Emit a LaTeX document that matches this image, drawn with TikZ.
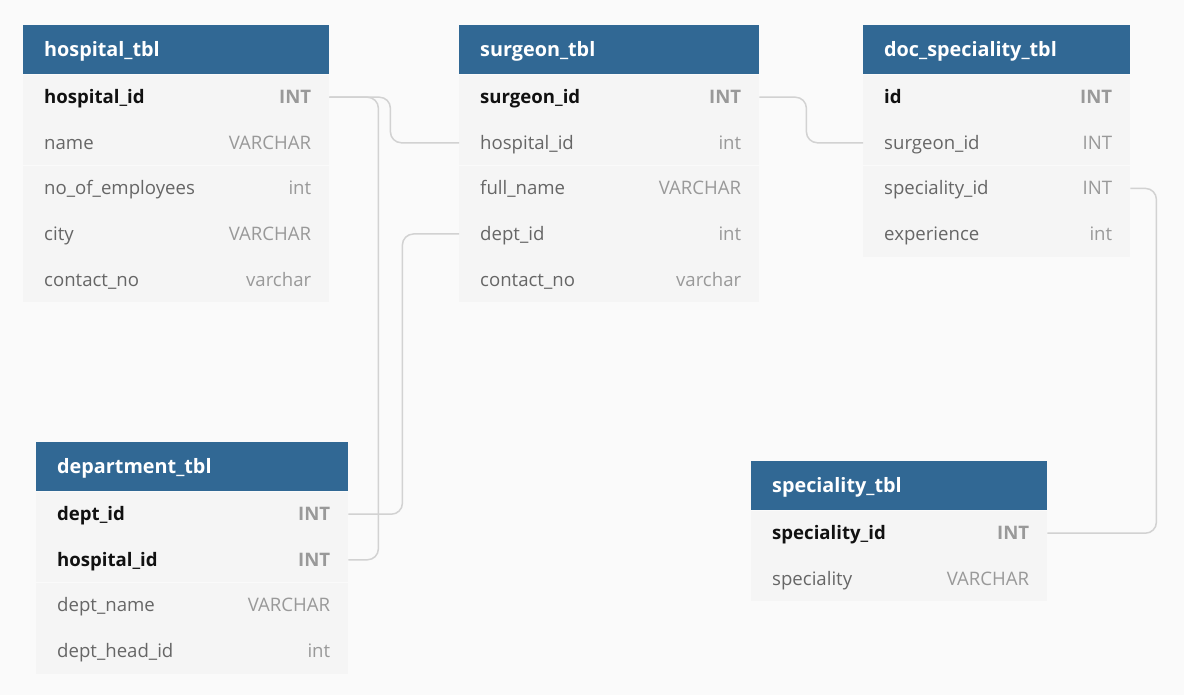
\documentclass[tikz,border=0pt]{standalone}
\usepackage{fontspec}
\setmainfont{Open Sans}
\definecolor{bgc}{HTML}{FAFAFA}
\definecolor{bodyc}{HTML}{F5F5F5}
\definecolor{hdrc}{HTML}{316894}
\definecolor{namec}{HTML}{666666}
\definecolor{typec}{HTML}{999999}
\definecolor{keyc}{HTML}{111111}
\definecolor{linec}{HTML}{D2D2D2}
\tikzset{
  hdr/.style={fill=hdrc, minimum height=49, inner sep=0, anchor=north west},
  hdrtext/.style={text=white, font=\fontsize{19.8}{22}\selectfont\bfseries, inner sep=0, anchor=base west},
  rowbox/.style={fill=bodyc, minimum height=45.2, inner sep=0},
  keyname/.style={text=keyc, font=\fontsize{18.6}{21}\selectfont\bfseries, inner sep=0},
  keytype/.style={text=typec, font=\fontsize{18.6}{21}\selectfont\bfseries, inner sep=0},
  fname/.style={text=namec, font=\fontsize{18.6}{21}\selectfont, inner sep=0},
  ftype/.style={text=typec, font=\fontsize{18.6}{21}\selectfont, inner sep=0},
  conn/.style={draw=linec, line width=1.5pt, rounded corners=11pt},
}
% #1 name, #2 x, #3 y, #4 width, #5 title
\newcommand{\ertable}[5]{%
  \node[hdr, minimum width=#4] (#1) at (#2,#3) {};
  \node[hdrtext] (#1x) at ([xshift=21,yshift=-7]#1.west) {#5};}
% #1 node name, #2 previous node, #3 width, #4 field, #5 type, #6 name style, #7 type style
\newcommand{\erow}[7]{%
  \node[rowbox, minimum width=#3, anchor=north] (#1) at (#2.south) {};
  \node[#6, anchor=base west] (#1n) at ([xshift=21,yshift=-6.5]#1.west) {#4};
  \node[#7, anchor=base east] (#1t) at ([xshift=-18,yshift=-6.5]#1.east) {#5};}
\begin{document}
\begin{tikzpicture}[x=1pt, y=-1pt]
\fill[bgc] (0,0) rectangle (1184,695);
\useasboundingbox (0,0) rectangle (1184,695);

% hospital_tbl
\ertable{h}{23}{25}{306}{hospital\_tbl}
\erow{h1}{h}{306}{hospital\_id}{INT}{keyname}{keytype}
\erow{h2}{h1}{306}{name}{VARCHAR}{fname}{ftype}
\erow{h3}{h2}{306}{no\_of\_employees}{int}{fname}{ftype}
\erow{h4}{h3}{306}{city}{VARCHAR}{fname}{ftype}
\erow{h5}{h4}{306}{contact\_no}{varchar}{fname}{ftype}

% surgeon_tbl
\ertable{s}{459}{25}{300}{surgeon\_tbl}
\erow{s1}{s}{300}{surgeon\_id}{INT}{keyname}{keytype}
\erow{s2}{s1}{300}{hospital\_id}{int}{fname}{ftype}
\erow{s3}{s2}{300}{full\_name}{VARCHAR}{fname}{ftype}
\erow{s4}{s3}{300}{dept\_id}{int}{fname}{ftype}
\erow{s5}{s4}{300}{contact\_no}{varchar}{fname}{ftype}

% doc_speciality_tbl
\ertable{ds}{863}{25}{267}{doc\_speciality\_tbl}
\erow{ds1}{ds}{267}{id}{INT}{keyname}{keytype}
\erow{ds2}{ds1}{267}{surgeon\_id}{INT}{fname}{ftype}
\erow{ds3}{ds2}{267}{speciality\_id}{INT}{fname}{ftype}
\erow{ds4}{ds3}{267}{experience}{int}{fname}{ftype}

% department_tbl
\ertable{d}{36}{442}{312}{department\_tbl}
\erow{d1}{d}{312}{dept\_id}{INT}{keyname}{keytype}
\erow{d2}{d1}{312}{hospital\_id}{INT}{keyname}{keytype}
\erow{d3}{d2}{312}{dept\_name}{VARCHAR}{fname}{ftype}
\erow{d4}{d3}{312}{dept\_head\_id}{int}{fname}{ftype}

% speciality_tbl
\ertable{sp}{751}{461}{296}{speciality\_tbl}
\erow{sp1}{sp}{296}{speciality\_id}{INT}{keyname}{keytype}
\erow{sp2}{sp1}{296}{speciality}{VARCHAR}{fname}{ftype}

% connectors
\draw[conn] (h1.east) -- ([xshift=61]h1.east) |- (s2.west);
\draw[conn] (h1.east) -- ([xshift=49]h1.east) |- (d2.east);
\draw[conn] (d1.east) -- ([xshift=54]d1.east) |- (s4.west);
\draw[conn] (s1.east) -- ([xshift=47]s1.east) |- (ds2.west);
\draw[conn] (ds3.east) -- ([xshift=26]ds3.east) |- (sp1.east);
\end{tikzpicture}
\end{document}
